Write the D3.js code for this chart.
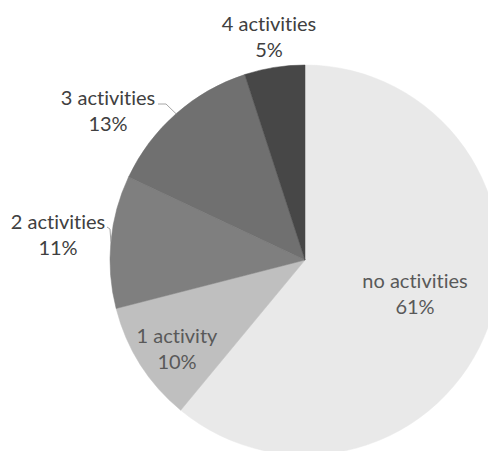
<!DOCTYPE html>
<html>
<head>
<meta charset="utf-8">
<script src="https://cdn.jsdelivr.net/npm/d3@7"></script>
<style>
  html, body { margin: 0; padding: 0; background: #ffffff; }
  svg { display: block; }
  text { font-family: Lato, "Open Sans", sans-serif; font-variant-ligatures: none; font-feature-settings: "liga" 0, "clig" 0; }
</style>
</head>
<body>
<svg id="chart" width="488" height="451"></svg>
<script>
// ---- data ----
const categories = ["no activities", "1 activity", "2 activities", "3 activities", "4 activities"];
const values = [61, 10, 11, 13, 5];
const percentLabels = ["61%", "10%", "11%", "13%", "5%"];
const colors = ["#e9e9e9", "#bfbfbf", "#7f7f7f", "#707070", "#474747"];

// ---- layout ----
const W = 488, H = 451;
const cx = 305, cy = 260, R = 195;
const fontSize = 20, lineGap = 26;
// label centres (pixels) and colours
const labelLayout = [
  { x: 415, y: 288, fill: "#595959" },
  { x: 177, y: 343, fill: "#595959" },
  { x: 58,  y: 229, fill: "#404040" },
  { x: 108, y: 105, fill: "#404040" },
  { x: 269, y: 31,  fill: "#404040" }
];

const svg = d3.select("#chart");
const g = svg.append("g").attr("transform", `translate(${cx},${cy})`);

const pie = d3.pie().sort(null).value(d => d.value).startAngle(0).endAngle(2 * Math.PI);
const arc = d3.arc().innerRadius(0).outerRadius(R);
const color = d3.scaleOrdinal().domain(categories).range(colors);

const data = categories.map((c, i) => ({ name: c, value: values[i], pct: percentLabels[i] }));
const arcs = pie(data);

g.selectAll("path.slice")
  .data(arcs)
  .join("path")
  .attr("class", "slice")
  .attr("d", arc)
  .attr("fill", d => color(d.data.name))
  .attr("stroke", d => color(d.data.name))
  .attr("stroke-width", 0.5);

// leader lines for outside labels (3 activities, 2 activities)
const outerPoint = (a, r) => [r * Math.sin(a), -r * Math.cos(a)];
function leader(idx, textEnd, bend) {
  const d = arcs[idx];
  const a = (d.startAngle + d.endAngle) / 2;
  const p = outerPoint(a, R);
  return [[textEnd[0] - cx, textEnd[1] - cy], [bend[0] - cx, bend[1] - cy], p];
}
const lineGen = d3.line();
const leaders = [
  leader(3, [158, 104], [166, 104]),
  leader(2, [107, 227], [110, 229])
];
svg.append("g").attr("transform", `translate(${cx},${cy})`)
  .selectAll("path.leader")
  .data(leaders)
  .join("path")
  .attr("class", "leader")
  .attr("d", lineGen)
  .attr("fill", "none")
  .attr("stroke", "#a6a6a6")
  .attr("stroke-width", 1);

// labels
const labels = svg.append("g").selectAll("text.lbl")
  .data(arcs)
  .join("text")
  .attr("class", "lbl")
  .attr("text-anchor", "middle")
  .attr("font-size", fontSize)
  .attr("fill", (d, i) => labelLayout[i].fill)
  .attr("x", (d, i) => labelLayout[i].x)
  .attr("y", (d, i) => labelLayout[i].y);

labels.append("tspan")
  .attr("x", (d, i) => labelLayout[i].x)
  .text(d => d.data.name);
labels.append("tspan")
  .attr("x", (d, i) => labelLayout[i].x)
  .attr("dy", lineGap)
  .text(d => d.data.pct);
</script>
</body>
</html>
